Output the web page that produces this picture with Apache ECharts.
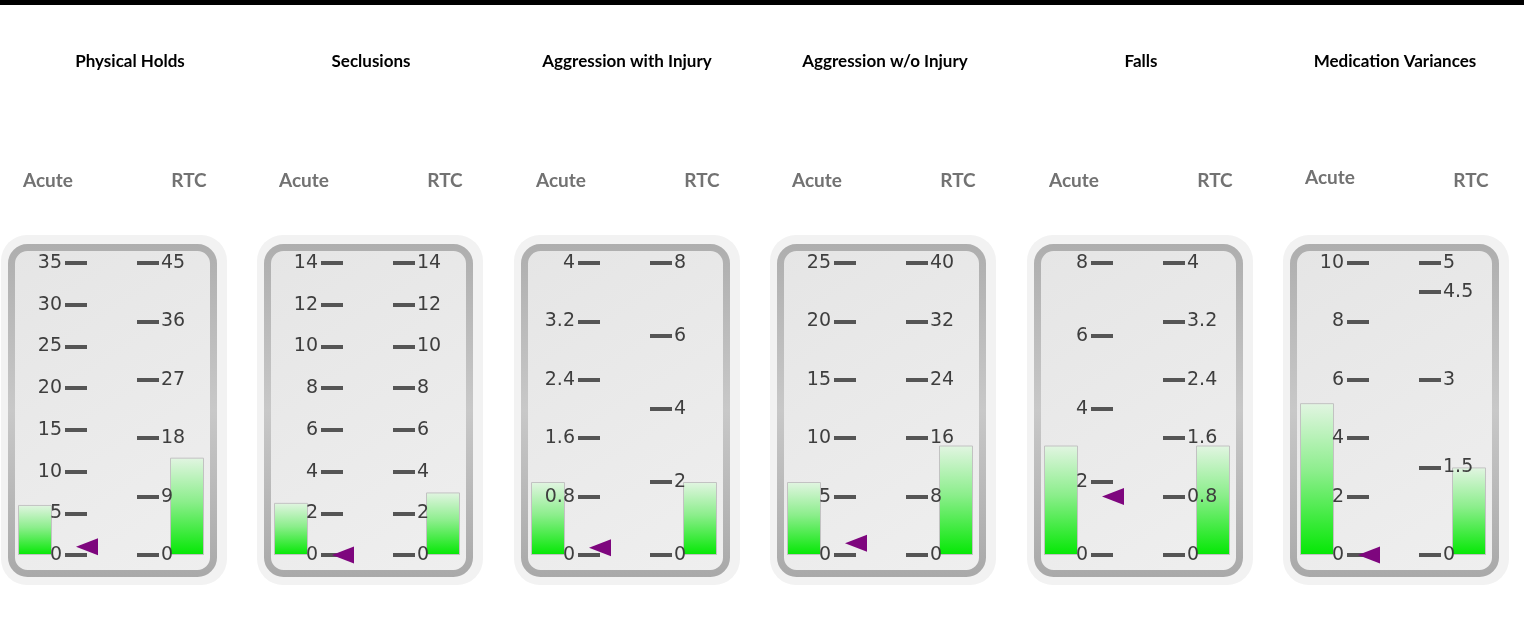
<!DOCTYPE html>
<html>
<head>
<meta charset="utf-8">
<title>Incident gauges</title>
<script src="https://cdn.jsdelivr.net/npm/echarts@6/dist/echarts.min.js"></script>
<style>
  html, body { margin: 0; padding: 0; background: #fff; }
  #chart { width: 1524px; height: 625px; }
</style>
</head>
<body>
<div id="chart"></div>
<script>
// values
const titles = ['Physical Holds', 'Seclusions', 'Aggression with Injury', 'Aggression w/o Injury', 'Falls', 'Medication Variances'];
const groups = ['Acute', 'RTC'];
const acuteValues = [6, 2.5, 1, 6.25, 3, 5.2];
const rtcValues = [15, 3, 2, 15, 1.5, 1.5];
const targetValues = [1, 0, 0.1, 1, 1.6, 0];   // purple pointer on the Acute scale
const acuteMax = [35, 14, 4, 25, 8, 10];
const acuteStep = [5, 2, 0.8, 5, 2, 2];
const rtcMax = [45, 14, 8, 40, 4, 5];
const rtcStep = [9, 2, 2, 8, 0.8, 1.5];

// layout
const panelStep = 256.4;
const titleX = [130, 371, 627, 885, 1141, 1395];
const subY = [181, 181, 181, 181, 181, 178];
const plotTop = 263, plotH = 292;
const labelFont = 'DejaVu Sans';

var chart = echarts.init(document.getElementById('chart'));

const barColor = new echarts.graphic.LinearGradient(0, 0, 0, 1, [
  { offset: 0, color: '#e2f5e2' },
  { offset: 0.45, color: '#8cee8c' },
  { offset: 1, color: '#04e804' }
]);

let grids = [], xAxes = [], yAxes = [], series = [], graphics = [];

graphics.push({ type: 'rect', z: -10, shape: { x: 0, y: 0, width: 1524, height: 5 }, style: { fill: '#000' } });

for (let i = 0; i < titles.length; i++) {
  const off = Math.round(i * panelStep);

  // panel frame
  graphics.push({
    type: 'rect', z: -10,
    shape: { x: off + 1, y: 235, width: 226, height: 350, r: 26 },
    style: { fill: '#f2f2f2' }
  });
  graphics.push({
    type: 'rect', z: -9,
    shape: { x: off + 11.5, y: 247.5, width: 202, height: 326, r: 16 },
    style: {
      fill: new echarts.graphic.LinearGradient(0, 0, 1, 1, [
        { offset: 0, color: '#e5e5e5' },
        { offset: 1, color: '#efefef' }
      ]),
      stroke: new echarts.graphic.LinearGradient(0, 0, 0, 1, [
        { offset: 0, color: '#aeaeae' },
        { offset: 0.5, color: '#c8c8c8' },
        { offset: 1, color: '#a9a9a9' }
      ]),
      lineWidth: 7
    }
  });

  // titles
  graphics.push({
    type: 'text', z: 1,
    style: {
      text: titles[i], x: titleX[i], y: 62,
      align: 'center', verticalAlign: 'middle',
      font: 'bold 17px Lato', fill: '#000'
    }
  });
  graphics.push({
    type: 'text', z: 1,
    style: {
      text: groups[0], x: off + 48, y: subY[i],
      align: 'center', verticalAlign: 'middle',
      font: 'bold 19px Lato', fill: '#727272'
    }
  });
  graphics.push({
    type: 'text', z: 1,
    style: {
      text: groups[1], x: off + 189, y: 181,
      align: 'center', verticalAlign: 'middle',
      font: 'bold 19px Lato', fill: '#727272'
    }
  });

  const gA = 2 * i, gR = 2 * i + 1;
  grids.push({ left: off + 18, top: plotTop, width: 34, height: plotH, outerBoundsMode: 'none' });
  grids.push({ left: off + 170, top: plotTop, width: 34, height: plotH, outerBoundsMode: 'none' });

  xAxes.push({ gridIndex: gA, type: 'category', data: [groups[0]], show: false });
  xAxes.push({ gridIndex: gR, type: 'category', data: [groups[1]], show: false });

  const tickStyle = { color: '#555', width: 4 };
  const labelStyle = { color: '#3e3e3e', fontSize: 19, fontFamily: labelFont };

  yAxes.push({
    gridIndex: gA, type: 'value', position: 'right', offset: 13, z: 5,
    min: 0, max: acuteMax[i], interval: acuteStep[i],
    axisLine: { show: false }, splitLine: { show: false },
    axisTick: { show: true, inside: false, length: 22, lineStyle: tickStyle },
    axisLabel: Object.assign({ inside: true, margin: 3 }, labelStyle)
  });
  yAxes.push({
    gridIndex: gR, type: 'value', position: 'left', offset: 33, z: 5,
    min: 0, max: rtcMax[i], interval: rtcStep[i],
    axisLine: { show: false }, splitLine: { show: false },
    axisTick: { show: true, inside: true, length: 22, lineStyle: tickStyle },
    axisLabel: Object.assign({ inside: true, margin: 24 }, labelStyle)
  });

  series.push({
    type: 'bar', xAxisIndex: gA, yAxisIndex: gA, barWidth: '100%',
    data: [acuteValues[i]], silent: true,
    itemStyle: { color: barColor, borderColor: '#c2c2c2', borderWidth: 1 }
  });
  series.push({
    type: 'bar', xAxisIndex: gR, yAxisIndex: gR, barWidth: '100%',
    data: [rtcValues[i]], silent: true,
    itemStyle: { color: barColor, borderColor: '#c2c2c2', borderWidth: 1 }
  });
  series.push({
    type: 'scatter', xAxisIndex: gA, yAxisIndex: gA, z: 6, clip: false,
    data: [targetValues[i]], silent: true,
    symbol: 'triangle', symbolSize: [17, 22], symbolRotate: 90, symbolOffset: [52, 0],
    itemStyle: { color: '#7e067e', opacity: 1 }
  });
}

chart.setOption({
  animation: false,
  grid: grids,
  xAxis: xAxes,
  yAxis: yAxes,
  series: series,
  graphic: graphics
});
</script>
</body>
</html>
